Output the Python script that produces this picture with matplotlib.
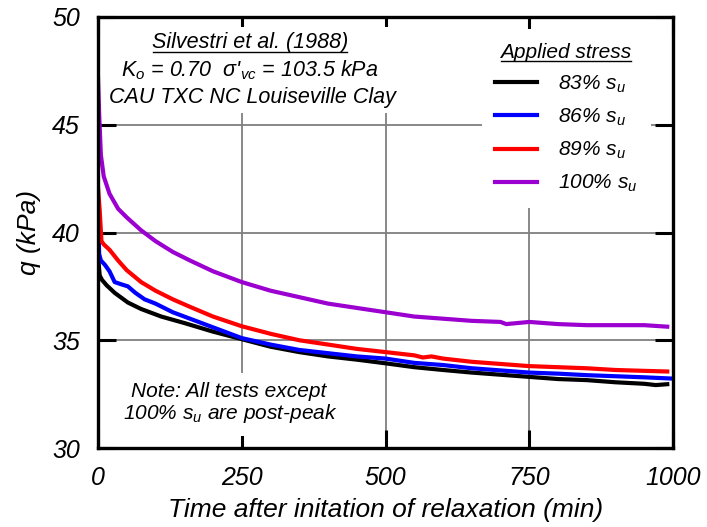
import matplotlib
matplotlib.use("Agg")
import matplotlib.pyplot as plt
from matplotlib.patches import Rectangle
from matplotlib.lines import Line2D

plt.rcParams['font.family'] = ['Liberation Sans', 'DejaVu Sans']
plt.rcParams['font.style'] = 'italic'
plt.rcParams['mathtext.fontset'] = 'custom'
plt.rcParams['mathtext.rm'] = 'Liberation Sans:italic'
plt.rcParams['mathtext.it'] = 'Liberation Sans:italic'
plt.rcParams['mathtext.sf'] = 'Liberation Sans:italic'

# ---- data ----
t_83 = [0, 3, 7, 15, 29, 52, 75, 110, 150, 200, 250, 300, 350, 400, 450, 500, 550,
        600, 650, 700, 750, 800, 850, 900, 950, 970, 990]
q_83 = [38.9, 38.0, 37.8, 37.55, 37.2, 36.75, 36.45, 36.1, 35.8, 35.4, 35.05, 34.7,
        34.45, 34.25, 34.1, 33.93, 33.75, 33.62, 33.5, 33.4, 33.3, 33.2, 33.15, 33.05,
        32.98, 32.92, 32.96]

t_86 = [0, 2, 5, 12, 20, 29, 40, 52, 65, 81, 100, 130, 160, 200, 250, 300, 350, 400,
        450, 500, 550, 600, 650, 700, 750, 800, 850, 900, 950, 1000]
q_86 = [41.0, 39.0, 38.7, 38.5, 38.2, 37.7, 37.6, 37.5, 37.2, 36.9, 36.7, 36.3, 36.0,
        35.6, 35.1, 34.8, 34.55, 34.4, 34.25, 34.15, 33.95, 33.85, 33.7, 33.6, 33.5,
        33.45, 33.38, 33.33, 33.28, 33.22]

t_89 = [0, 3, 6, 10, 20, 35, 50, 75, 100, 130, 160, 200, 250, 300, 350, 400, 450, 500,
        550, 565, 580, 600, 650, 700, 750, 800, 850, 900, 950, 990]
q_89 = [42.1, 41.0, 39.6, 39.45, 39.2, 38.7, 38.25, 37.7, 37.3, 36.9, 36.55, 36.1,
        35.65, 35.3, 35.0, 34.8, 34.6, 34.45, 34.3, 34.2, 34.25, 34.15, 34.0, 33.9,
        33.8, 33.75, 33.7, 33.62, 33.58, 33.55]

t_100 = [0, 2, 5, 10, 20, 35, 50, 75, 100, 130, 160, 200, 250, 300, 350, 400, 450, 500,
         550, 600, 650, 700, 710, 750, 800, 850, 900, 950, 990]
q_100 = [47.2, 45.5, 43.6, 42.6, 41.8, 41.1, 40.7, 40.1, 39.6, 39.1, 38.7, 38.2, 37.7,
         37.3, 37.0, 36.7, 36.5, 36.3, 36.1, 36.0, 35.9, 35.85, 35.75, 35.85, 35.75,
         35.7, 35.7, 35.7, 35.63]

labels = ['83% $s_u$', '86% $s_u$', '89% $s_u$', '100% $s_u$']
colors = ['#000000', '#0000FF', '#FF0000', '#9B00D0']
x_ticks = [0, 250, 500, 750, 1000]
y_ticks = [30, 35, 40, 45, 50]

fig = plt.figure(figsize=(7.07, 5.27), dpi=100)
ax = fig.add_axes([98/707, 1-448/527, 575/707, 431/527])

series = [(t_83, q_83), (t_86, q_86), (t_89, q_89), (t_100, q_100)]
handles = []
for (t, q), c, lab in zip(series, colors, labels):
    h, = ax.plot(t, q, color=c, lw=3.0, label=lab, zorder=2.2, solid_joinstyle='round')
    handles.append(h)

ax.set_xlim(0, 1000)
ax.set_ylim(30, 50)
ax.set_xticks(x_ticks)
ax.set_yticks(y_ticks)
ax.grid(True, color='#7f7f7f', lw=1.3)
ax.tick_params(direction='in', length=13, width=2.2, top=True, right=True,
               labelsize=18)
ax.tick_params(axis='x', pad=13)
ax.tick_params(axis='y', pad=13)
for s in ax.spines.values():
    s.set_linewidth(2.4)
    s.set_zorder(3)

ax.set_xlabel('Time after initation of relaxation (min)', fontsize=19, labelpad=6)
ax.set_ylabel('q (kPa)', fontsize=19, labelpad=8)

# white boxes hiding grid behind annotations
ax.add_patch(Rectangle((0.016, 0.777), 0.504, 0.2, transform=ax.transAxes,
                       facecolor='white', edgecolor='none', zorder=1.8))
ax.add_patch(Rectangle((0.03, 0.028), 0.40, 0.146, transform=ax.transAxes,
                       facecolor='white', edgecolor='none', zorder=1.8))

t1 = ax.text(0.264, 0.94, 'Silvestri et al. (1988)', transform=ax.transAxes,
             ha='center', va='center', fontsize=15.5, zorder=4)
ax.text(0.264, 0.877, r"K$_o$ = 0.70  σ'$_{vc}$ = 103.5 kPa", transform=ax.transAxes,
        ha='center', va='center', fontsize=15.5, zorder=4)
ax.text(0.268, 0.814, 'CAU TXC NC Louiseville Clay', transform=ax.transAxes,
        ha='center', va='center', fontsize=15.5, zorder=4)

ax.text(0.228, 0.132, 'Note: All tests except', transform=ax.transAxes,
        ha='center', va='center', fontsize=15, zorder=4)
ax.text(0.230, 0.081, '100% $s_u$ are post-peak', transform=ax.transAxes,
        ha='center', va='center', fontsize=15, zorder=4)

leg = ax.legend(handles=handles, labels=labels, loc='upper left',
                bbox_to_anchor=(0.667, 0.972), fontsize=15, title='Applied stress',
                title_fontsize=15, frameon=True, fancybox=False, framealpha=1,
                edgecolor='none', facecolor='white', handlelength=2.0,
                handletextpad=1.0, labelspacing=0.57, borderpad=0.65,
                borderaxespad=0)
leg.set_zorder(5)
leg.get_title().set_style('italic')

# underline for the two headings
fig.canvas.draw()
r = fig.canvas.get_renderer()
for txt in (t1, leg.get_title()):
    bb = txt.get_window_extent(renderer=r)
    inv = fig.transFigure.inverted()
    (x0, y0) = inv.transform((bb.x0 + 1, bb.y0 + 1))
    (x1, _) = inv.transform((bb.x1 - 1, bb.y0 + 1))
    fig.add_artist(Line2D([x0, x1], [y0, y0], color='black', lw=1.0,
                          transform=fig.transFigure, zorder=6))

fig.savefig('out.png', dpi=100)
